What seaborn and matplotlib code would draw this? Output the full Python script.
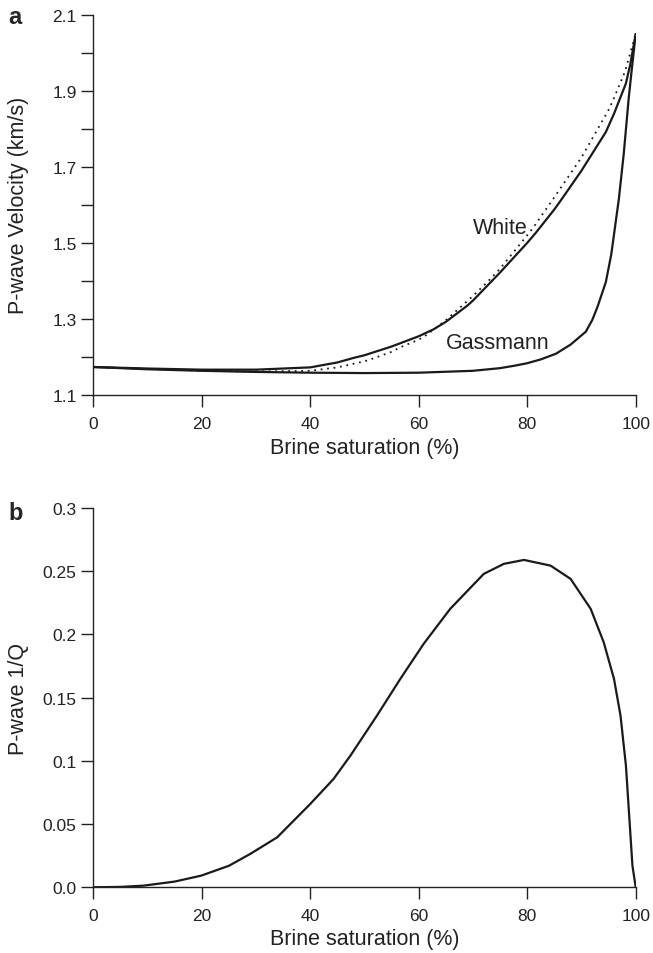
import numpy as np
import pandas as pd
import matplotlib
matplotlib.use("Agg")
import matplotlib.pyplot as plt
import seaborn as sns

# ---- data ----
sat_white = [0, 10, 20, 30, 40, 45, 48, 50, 55, 60, 62.7, 65, 68.9, 70, 75, 80, 81.5,
             85, 86.4, 90, 94.5, 96, 98.2, 99, 100]
v_white = [1.173, 1.169, 1.166, 1.166, 1.172, 1.185, 1.197, 1.204, 1.227, 1.254, 1.272,
           1.292, 1.334, 1.348, 1.422, 1.500, 1.525, 1.588, 1.616, 1.690, 1.792, 1.840,
           1.920, 1.970, 2.050]

sat_dot = [0, 10, 20, 30, 40, 45, 50, 51.7, 55, 56.6, 60, 61.5, 65, 65.2, 70, 72.6,
           75, 80, 80.9, 85, 90, 95, 95.9, 98, 100]
v_dot = [1.173, 1.168, 1.163, 1.161, 1.163, 1.172, 1.188, 1.196, 1.213, 1.225, 1.245,
         1.258, 1.296, 1.299, 1.360, 1.396, 1.432, 1.520, 1.536, 1.620, 1.725, 1.850,
         1.878, 1.950, 2.050]

sat_gass = [0, 10, 20, 30, 40, 50, 60, 70, 75, 77.9, 80, 82.5, 85.3, 88, 90.8, 92, 93,
            94.5, 95.5, 96.9, 97.8, 98.7, 99.3, 100]
v_gass = [1.173, 1.167, 1.163, 1.160, 1.158, 1.157, 1.158, 1.163, 1.170, 1.177, 1.183,
          1.193, 1.208, 1.232, 1.266, 1.297, 1.333, 1.397, 1.470, 1.616, 1.735, 1.879,
          1.960, 2.050]

sat_q = [0, 5, 9.3, 15, 19.9, 25, 28.9, 33.9, 40, 44.3, 47.4, 52.3, 56.6, 60.9, 65.8,
         72.0, 75.7, 79.4, 84.3, 88.0, 91.7, 94.1, 96.0, 97.2, 98.2, 98.8, 99.4, 100]
inv_q = [0.0, 0.0003, 0.0013, 0.0045, 0.0092, 0.017, 0.0263, 0.0395, 0.0659, 0.0857,
         0.1041, 0.1358, 0.1648, 0.1925, 0.2202, 0.2479, 0.2558, 0.2589, 0.2544, 0.2439,
         0.2202, 0.1938, 0.1648, 0.1358, 0.0962, 0.0566, 0.0171, 0.0]

xticks = [0, 20, 40, 60, 80, 100]
yticks_a = [1.1, 1.2, 1.3, 1.4, 1.5, 1.6, 1.7, 1.8, 1.9, 2.0, 2.1]
yticklabels_a = ["1.1", "", "1.3", "", "1.5", "", "1.7", "", "1.9", "", "2.1"]
yticks_b = [0.0, 0.05, 0.1, 0.15, 0.2, 0.25, 0.3]
yticklabels_b = ["0.0", "0.05", "0.1", "0.15", "0.2", "0.25", "0.3"]

sns.set_style("ticks")
plt.rcParams["font.family"] = ["Liberation Sans", "DejaVu Sans"]
plt.rcParams["axes.linewidth"] = 1.0
plt.rcParams["xtick.major.size"] = 8.5
plt.rcParams["ytick.major.size"] = 8.5
plt.rcParams["xtick.major.width"] = 1.0
plt.rcParams["ytick.major.width"] = 1.0
plt.rcParams["xtick.major.pad"] = 6.5
plt.rcParams["ytick.major.pad"] = 3.5
plt.rcParams["xtick.color"] = "#222222"
plt.rcParams["ytick.color"] = "#222222"
plt.rcParams["xtick.labelcolor"] = "#222222"
plt.rcParams["ytick.labelcolor"] = "#222222"
plt.rcParams["lines.solid_joinstyle"] = "round"

fig = plt.figure(figsize=(6.53, 9.54), dpi=100)
ax1 = fig.add_axes([0.1429, 0.5852, 0.8306, 0.398])
ax2 = fig.add_axes([0.1429, 0.0689, 0.8306, 0.3976])

lc = "#1a1a1a"
tc = "#222222"
df_w = pd.DataFrame({"s": sat_white, "v": v_white})
df_d = pd.DataFrame({"s": sat_dot, "v": v_dot})
df_g = pd.DataFrame({"s": sat_gass, "v": v_gass})
sns.lineplot(data=df_d, x="s", y="v", ax=ax1, color=lc, lw=1.3, linestyle=(0, (1, 2.6)))
sns.lineplot(data=df_w, x="s", y="v", ax=ax1, color=lc, lw=1.6)
sns.lineplot(data=df_g, x="s", y="v", ax=ax1, color=lc, lw=1.6)

ax1.text(70.0, 1.541, "White", fontsize=15.5, color=tc, va="center", ha="left")
ax1.text(65.0, 1.238, "Gassmann", fontsize=15.5, color=tc, va="center", ha="left")

ax1.set_xlim(0, 100)
ax1.set_ylim(1.1, 2.1)
ax1.set_xticks(xticks)
ax1.set_xticklabels([str(t) for t in xticks])
ax1.set_yticks(yticks_a)
ax1.set_yticklabels(yticklabels_a)
ax1.set_xlabel("Brine saturation (%)", fontsize=15.5, color=tc)
ax1.set_ylabel("P-wave Velocity (km/s)", fontsize=15.5, color=tc)
ax1.tick_params(labelsize=12.5)
ax1.yaxis.set_label_coords(-0.118, 0.5)
ax1.xaxis.set_label_coords(0.5, -0.112)

df_q = pd.DataFrame({"s": sat_q, "q": inv_q})
sns.lineplot(data=df_q, x="s", y="q", ax=ax2, color=lc, lw=1.6)
ax2.set_xlim(0, 100)
ax2.set_ylim(0, 0.3)
ax2.set_xticks(xticks)
ax2.set_xticklabels([str(t) for t in xticks])
ax2.set_yticks(yticks_b)
ax2.set_yticklabels(yticklabels_b)
ax2.set_xlabel("Brine saturation (%)", fontsize=15.5, color=tc)
ax2.set_ylabel("P-wave 1/Q", fontsize=15.5, color=tc)
ax2.tick_params(labelsize=12.5)
ax2.yaxis.set_label_coords(-0.118, 0.5)
ax2.xaxis.set_label_coords(0.5, -0.107)

for ax in (ax1, ax2):
    sns.despine(ax=ax)
    for sp in ax.spines.values():
        sp.set_color(tc)

fig.text(8 / 653, 1 - 18 / 954, "a", fontsize=17, fontweight="bold", ha="left", va="center")
fig.text(8 / 653, 1 - 513 / 954, "b", fontsize=17, fontweight="bold", ha="left", va="center")

fig.savefig("out.png", dpi=100)
